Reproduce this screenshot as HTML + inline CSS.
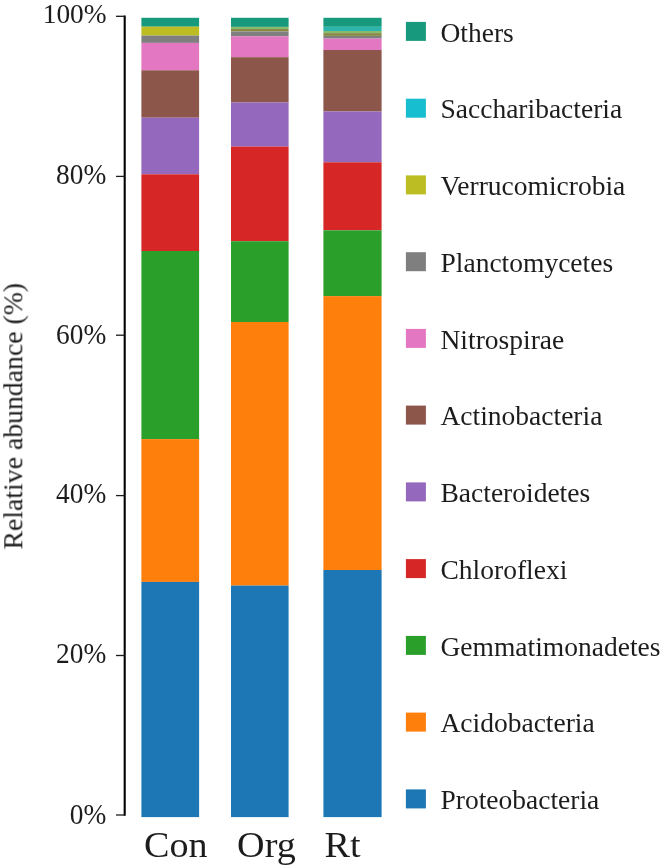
<!DOCTYPE html>
<html><head><meta charset="utf-8"><title>Relative abundance</title>
<style>
html,body{margin:0;padding:0;background:#fff;}
svg{display:block;}
text{font-family:"Liberation Serif","Times New Roman",serif;fill:#1e1e1e;}
</style></head><body>
<svg width="662" height="866" viewBox="0 0 662 866">
<defs><filter id="soft" x="-5%" y="-5%" width="110%" height="110%"><feGaussianBlur stdDeviation="0.45"/></filter><filter id="softbar" x="-5%" y="-1%" width="110%" height="102%"><feGaussianBlur stdDeviation="0.6"/></filter></defs>
<rect width="662" height="866" fill="#fff"/>
<g filter="url(#softbar)">
<rect x="141.4" y="17.8" width="57.7" height="8.9" fill="#17997b"/>
<rect x="141.4" y="26.7" width="57.7" height="8.9" fill="#bcbd22"/>
<rect x="141.4" y="35.6" width="57.7" height="7.3" fill="#7f7f7f"/>
<rect x="141.4" y="42.9" width="57.7" height="27.4" fill="#e377c2"/>
<rect x="141.4" y="70.3" width="57.7" height="47.4" fill="#8c564b"/>
<rect x="141.4" y="117.7" width="57.7" height="56.6" fill="#9467bd"/>
<rect x="141.4" y="174.3" width="57.7" height="76.7" fill="#d62728"/>
<rect x="141.4" y="251.0" width="57.7" height="188.1" fill="#2ca02c"/>
<rect x="141.4" y="439.1" width="57.7" height="142.8" fill="#ff7f0e"/>
<rect x="141.4" y="581.9" width="57.7" height="235.2" fill="#1f77b4"/>
<rect x="231.0" y="17.8" width="57.6" height="9.1" fill="#17997b"/>
<rect x="231.0" y="26.9" width="57.6" height="2.1" fill="#86bb70"/>
<rect x="231.0" y="29.0" width="57.6" height="2.5" fill="#8a8a44"/>
<rect x="231.0" y="31.5" width="57.6" height="4.8" fill="#7f7f7f"/>
<rect x="231.0" y="36.3" width="57.6" height="20.9" fill="#e377c2"/>
<rect x="231.0" y="57.2" width="57.6" height="45.3" fill="#8c564b"/>
<rect x="231.0" y="102.5" width="57.6" height="44.1" fill="#9467bd"/>
<rect x="231.0" y="146.6" width="57.6" height="94.6" fill="#d62728"/>
<rect x="231.0" y="241.2" width="57.6" height="80.8" fill="#2ca02c"/>
<rect x="231.0" y="322.0" width="57.6" height="263.6" fill="#ff7f0e"/>
<rect x="231.0" y="585.6" width="57.6" height="231.5" fill="#1f77b4"/>
<rect x="323.4" y="17.8" width="58.2" height="9.0" fill="#17997b"/>
<rect x="323.4" y="26.8" width="58.2" height="4.2" fill="#2eb5ab"/>
<rect x="323.4" y="31.0" width="58.2" height="2.1" fill="#86bb70"/>
<rect x="323.4" y="33.1" width="58.2" height="2.8" fill="#8a8a44"/>
<rect x="323.4" y="35.9" width="58.2" height="2.7" fill="#7f7f7f"/>
<rect x="323.4" y="38.6" width="58.2" height="11.4" fill="#e377c2"/>
<rect x="323.4" y="50.0" width="58.2" height="61.5" fill="#8c564b"/>
<rect x="323.4" y="111.5" width="58.2" height="50.8" fill="#9467bd"/>
<rect x="323.4" y="162.3" width="58.2" height="68.0" fill="#d62728"/>
<rect x="323.4" y="230.3" width="58.2" height="65.8" fill="#2ca02c"/>
<rect x="323.4" y="296.1" width="58.2" height="273.9" fill="#ff7f0e"/>
<rect x="323.4" y="570.0" width="58.2" height="247.1" fill="#1f77b4"/>
</g>
<g filter="url(#soft)">
<g stroke="#0a0a0a" fill="none">
<line x1="124.7" y1="15.6" x2="124.7" y2="815.7" stroke-width="2.1" stroke="#000"/>
<line x1="116" y1="16.3" x2="124.8" y2="16.3" stroke-width="1.3" stroke="#1a1a1a"/>
<line x1="116" y1="176.4" x2="124.8" y2="176.4" stroke-width="1.3" stroke="#1a1a1a"/>
<line x1="116" y1="335.2" x2="124.8" y2="335.2" stroke-width="1.3" stroke="#1a1a1a"/>
<line x1="116" y1="495.6" x2="124.8" y2="495.6" stroke-width="1.3" stroke="#1a1a1a"/>
<line x1="116" y1="655.5" x2="124.8" y2="655.5" stroke-width="1.3" stroke="#1a1a1a"/>
<line x1="116" y1="815.0" x2="124.8" y2="815.0" stroke-width="1.3" stroke="#1a1a1a"/>
</g>
<text transform="translate(106.6,22.8) scale(1,1.0)" font-size="27.4" text-anchor="end">100%</text>
<text transform="translate(106.3,183.7) scale(1,1.05)" font-size="27.4" text-anchor="end">80%</text>
<text transform="translate(106.3,343.7) scale(1,1.05)" font-size="27.4" text-anchor="end">60%</text>
<text transform="translate(106.3,503.3) scale(1,1.06)" font-size="27.4" text-anchor="end">40%</text>
<text transform="translate(106.3,663.3) scale(1,1.06)" font-size="27.4" text-anchor="end">20%</text>
<text transform="translate(106.3,824.0) scale(1,1.09)" font-size="27.4" text-anchor="end">0%</text>
<text transform="translate(22.3,549.5) rotate(-90)" font-size="27.75">Relative abundance (%)</text>
<text transform="translate(144.1,857) scale(1.09,1)" font-size="35">Con</text>
<text transform="translate(237.1,857) scale(1.09,1)" font-size="35">Org</text>
<text transform="translate(324.5,857) scale(1.09,1)" font-size="35">Rt</text>
<rect x="405.9" y="21.9" width="20" height="19" fill="#17997b"/>
<text x="440.5" y="41.5" font-size="27.5">Others</text>
<rect x="405.9" y="98.7" width="20" height="19" fill="#17becf"/>
<text x="440.5" y="118.2" font-size="27.5">Saccharibacteria</text>
<rect x="405.9" y="175.4" width="20" height="19" fill="#bcbd22"/>
<text x="440.5" y="195.0" font-size="27.5">Verrucomicrobia</text>
<rect x="405.9" y="252.2" width="20" height="19" fill="#7f7f7f"/>
<text x="440.5" y="271.8" font-size="27.5">Planctomycetes</text>
<rect x="405.9" y="328.9" width="20" height="19" fill="#e377c2"/>
<text x="440.5" y="348.5" font-size="27.5">Nitrospirae</text>
<rect x="405.9" y="405.6" width="20" height="19" fill="#8c564b"/>
<text x="440.5" y="425.2" font-size="27.5">Actinobacteria</text>
<rect x="405.9" y="482.4" width="20" height="19" fill="#9467bd"/>
<text x="440.5" y="502.0" font-size="27.5">Bacteroidetes</text>
<rect x="405.9" y="559.1" width="20" height="19" fill="#d62728"/>
<text x="440.5" y="578.8" font-size="27.5">Chloroflexi</text>
<rect x="405.9" y="635.9" width="20" height="19" fill="#2ca02c"/>
<text x="440.5" y="655.5" font-size="27.5">Gemmatimonadetes</text>
<rect x="405.9" y="712.6" width="20" height="19" fill="#ff7f0e"/>
<text x="440.5" y="732.2" font-size="27.5">Acidobacteria</text>
<rect x="405.9" y="789.4" width="20" height="19" fill="#1f77b4"/>
<text x="440.5" y="809.0" font-size="27.5">Proteobacteria</text>
</g>
</svg>
</body></html>
